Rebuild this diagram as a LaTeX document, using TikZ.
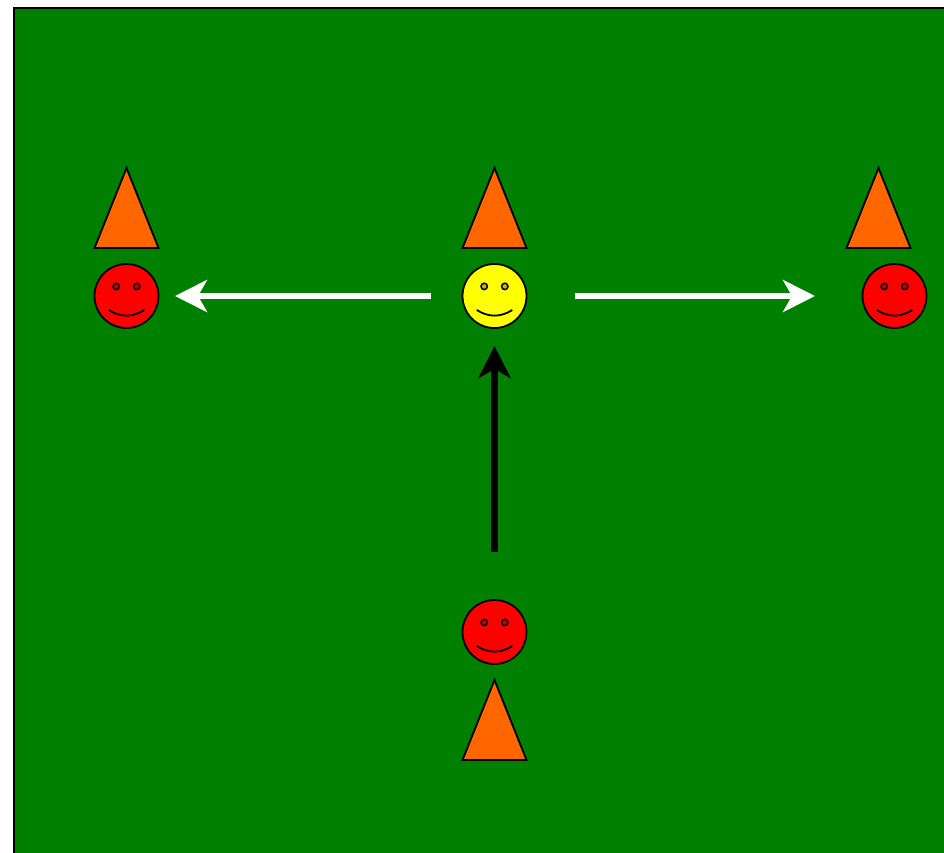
\documentclass[tikz,border=0pt]{standalone}
\usepackage{tikz}
\usetikzlibrary{arrows.meta}
\definecolor{pitch}{HTML}{008000}
\definecolor{cone}{HTML}{FF6600}
\definecolor{redface}{HTML}{FF0000}
\definecolor{yellowface}{HTML}{FFFF00}
\tikzset{
	face/.style={circle,draw=black,line width=1.8pt,minimum size=64pt,inner sep=0pt,outer sep=0pt},
	eye/.style={draw=black,line width=1.5pt,fill=black,fill opacity=0.25},
	conetri/.style={draw=black,line width=1.8pt,line join=miter,fill=cone},
	runarrow/.style={line width=6.5pt,-{Stealth[length=32pt,width=32pt,inset=9pt]}}
}
\begin{document}
\begin{tikzpicture}[x=1pt,y=-1pt]
\useasboundingbox (0,0) rectangle (944,853);
% pitch
\draw[fill=pitch,line width=2pt] (14,8) rectangle (970,880);
% players
\foreach \name/\x/\y/\col in {leftface/126.5/296/redface,midface/494.5/296/yellowface,rightface/894.5/296/redface,backface/494.5/632/redface} {
	\node[face,fill=\col] (\name) at (\x,\y) {};
	\draw[eye] (\x-10.3,\y-9.6) circle (3.2);
	\draw[eye] (\x+10.3,\y-9.6) circle (3.2);
	\draw[line width=1.8pt] (\x-17.8,\y+14) .. controls (\x-6,\y+21.5) and (\x+6,\y+21.5) .. (\x+17.8,\y+14);
}
% cones
\foreach \x/\y in {126.5/248,494.5/248,878.5/248,494.5/760} {
	\draw[conetri] (\x-32,\y) -- (\x,\y-80) -- (\x+32,\y) -- cycle;
}
% runs
\draw[runarrow,draw=white,shorten <=32pt,shorten >=16.5pt] (midface) -- (leftface);
\draw[runarrow,draw=white,shorten <=48pt,shorten >=47.5pt] (midface) -- (rightface);
\draw[runarrow,draw=black,shorten <=48pt,shorten >=18pt] (backface) -- (midface);
\end{tikzpicture}
\end{document}
